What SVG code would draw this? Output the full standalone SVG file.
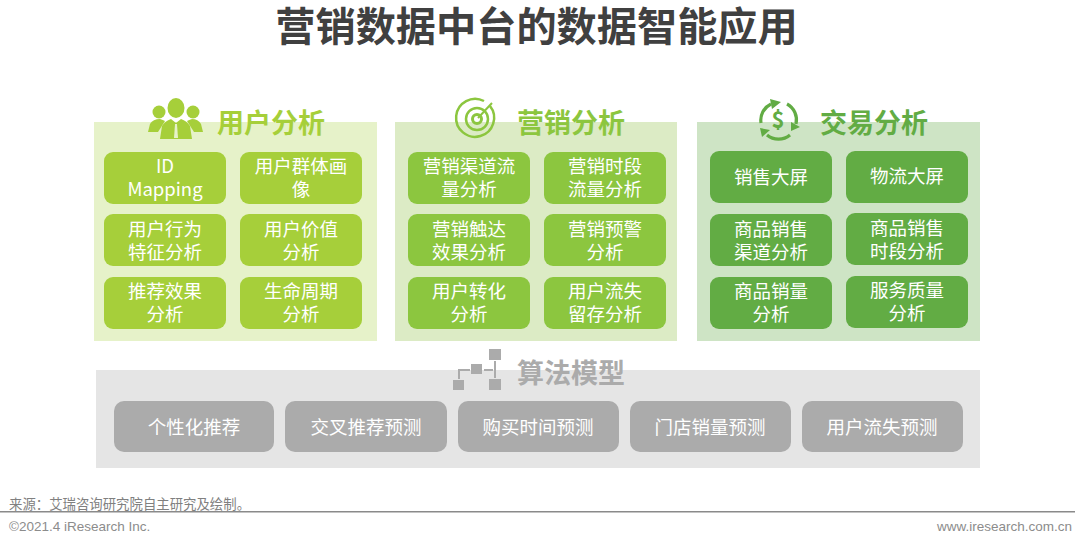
<svg xmlns="http://www.w3.org/2000/svg" width="1080" height="547" viewBox="0 0 1080 547">
<style>
text{font-family:"Noto Sans CJK SC","Noto Sans",sans-serif;text-anchor:middle}
.t{font-size:18.5px;fill:#fff}
.h{font-size:27px;font-weight:700}
.a{fill:#a6cf3a}.b{fill:#8cc63f}.c{fill:#62ac44}.g{fill:#ababab}
.src{text-anchor:start;font-size:13.4px;fill:#808080}
.lat{font-family:"Liberation Sans",sans-serif;font-size:13.5px;fill:#8c8c8c}
</style>
<rect width="1080" height="547" fill="#fff"/>
<text id="title" x="536.5" y="41" font-size="40.2" font-weight="700" fill="#404040">营销数据中台的数据智能应用</text>

<rect id="panel-user" x="94" y="122" width="283" height="219" fill="#e6f2c9"/>
<rect id="panel-mkt" x="395" y="122" width="282" height="219" fill="#dcebc5"/>
<rect id="panel-trade" x="697" y="122" width="283" height="219" fill="#cee4c5"/>
<rect id="panel-algo" x="96" y="370" width="884" height="98" fill="#e5e5e5"/>

<g id="icon-user" fill="#a6cf3a">
<ellipse cx="176" cy="108" rx="8.5" ry="10"/><circle cx="159" cy="112" r="6.5"/><circle cx="193" cy="112" r="6.5"/>
<path d="M160 139 L162 126 Q165 121 171 119 L176 123 L181 119 Q187 121 190 126 L192 139Z"/>
<path d="M148 132 L150 124 Q153 119 160 119 Q163 120 165 121 L158 132Z"/>
<path d="M203 132 L201 124 Q198 119 192 119 Q189 120 187 121 L194 132Z"/>
<path d="M175 124 L177 124 L178 138 L174 138Z" fill="#e6f2c9"/>
</g>
<text id="head-user" class="h" x="271" y="132.500" fill="#a6cf3a">用户分析</text>

<g id="icon-mkt" fill="none" stroke="#8cc63f">
<path d="M490 106 A19 19 0 1 1 484 101" stroke-width="2.5"/>
<circle cx="477" cy="119" r="11" stroke-width="2.5"/>
<circle cx="477" cy="119" r="4.5" stroke-width="3"/>
<path d="M478 118 L492 103" stroke-width="2"/>
</g>
<text id="head-mkt" class="h" x="571" y="132.500" fill="#8cc63f">营销分析</text>

<g id="icon-trade">
<g fill="none" stroke="#62ac44" stroke-width="3.2">
<path d="M761 123 A18 18 0 0 1 771 104"/>
<path d="M787 104 A18 18 0 0 1 796 124"/>
<path d="M790 135 A18 18 0 0 1 767 135"/>
</g>
<path d="M770 99 L781 102 L772 109Z M791 122 L800 127 L791 131Z M760 128 L770 130 L762 137Z" fill="#62ac44"/>
<text x="778" y="128" font-size="22" font-weight="700" fill="#62ac44">$</text>
</g>
<text id="head-trade" class="h" x="874" y="132.500" fill="#62ac44">交易分析</text>

<g id="icon-algo" fill="#ababab">
<rect x="489" y="349" width="12" height="11"/>
<rect x="471" y="364" width="11" height="10"/>
<rect x="453" y="380" width="11" height="10"/>
<rect x="489" y="379" width="12" height="11"/>
<path d="M458 379 V369 H470 V371 H460 V379Z M484 369 H493 V371 H484Z M494 361 H496 V378 H494Z"/>
</g>
<text id="head-algo" class="h" x="571" y="383" fill="#ababab">算法模型</text>

<g id="n1"><rect class="a" x="104" y="152" width="122" height="52" rx="9"/><text class="t" x="165" y="173">ID</text><text class="t" x="165" y="196">Mapping</text></g>
<g id="n2"><rect class="a" x="240" y="152" width="122" height="52" rx="9"/><text class="t" x="301" y="173">用户群体画</text><text class="t" x="301" y="196">像</text></g>
<g id="n3"><rect class="a" x="104" y="214" width="122" height="52" rx="9"/><text class="t" x="165" y="235.500">用户行为</text><text class="t" x="165" y="258.500">特征分析</text></g>
<g id="n4"><rect class="a" x="240" y="214" width="122" height="52" rx="9"/><text class="t" x="301" y="235.500">用户价值</text><text class="t" x="301" y="258.500">分析</text></g>
<g id="n5"><rect class="a" x="104" y="277" width="122" height="52" rx="9"/><text class="t" x="165" y="298">推荐效果</text><text class="t" x="165" y="321">分析</text></g>
<g id="n6"><rect class="a" x="240" y="277" width="122" height="52" rx="9"/><text class="t" x="301" y="298">生命周期</text><text class="t" x="301" y="321">分析</text></g>

<g id="n7"><rect class="b" x="408" y="152" width="122" height="52" rx="9"/><text class="t" x="469" y="173">营销渠道流</text><text class="t" x="469" y="196">量分析</text></g>
<g id="n8"><rect class="b" x="544" y="152" width="122" height="52" rx="9"/><text class="t" x="605" y="173">营销时段</text><text class="t" x="605" y="196">流量分析</text></g>
<g id="n9"><rect class="b" x="408" y="214" width="122" height="52" rx="9"/><text class="t" x="469" y="235.500">营销触达</text><text class="t" x="469" y="258.500">效果分析</text></g>
<g id="n10"><rect class="b" x="544" y="214" width="122" height="52" rx="9"/><text class="t" x="605" y="235.500">营销预警</text><text class="t" x="605" y="258.500">分析</text></g>
<g id="n11"><rect class="b" x="408" y="277" width="122" height="52" rx="9"/><text class="t" x="469" y="298">用户转化</text><text class="t" x="469" y="321">分析</text></g>
<g id="n12"><rect class="b" x="544" y="277" width="122" height="52" rx="9"/><text class="t" x="605" y="298">用户流失</text><text class="t" x="605" y="321">留存分析</text></g>

<g id="n13"><rect class="c" x="710" y="151" width="122" height="52" rx="9"/><text class="t" x="771" y="184">销售大屏</text></g>
<g id="n14"><rect class="c" x="846" y="151" width="122" height="52" rx="9"/><text class="t" x="907" y="183">物流大屏</text></g>
<g id="n15"><rect class="c" x="710" y="214" width="122" height="52" rx="9"/><text class="t" x="771" y="235.500">商品销售</text><text class="t" x="771" y="258.500">渠道分析</text></g>
<g id="n16"><rect class="c" x="846" y="213" width="122" height="52" rx="9"/><text class="t" x="907" y="234.500">商品销售</text><text class="t" x="907" y="257.500">时段分析</text></g>
<g id="n17"><rect class="c" x="710" y="277" width="122" height="52" rx="9"/><text class="t" x="771" y="298">商品销量</text><text class="t" x="771" y="321">分析</text></g>
<g id="n18"><rect class="c" x="846" y="276" width="122" height="52" rx="9"/><text class="t" x="907" y="297">服务质量</text><text class="t" x="907" y="320">分析</text></g>

<g id="a1"><rect class="g" x="114" y="401" width="160" height="51" rx="10"/><text class="t" x="194" y="434">个性化推荐</text></g>
<g id="a2"><rect class="g" x="285" y="401" width="162" height="51" rx="10"/><text class="t" x="366" y="434">交叉推荐预测</text></g>
<g id="a3"><rect class="g" x="458" y="401" width="161" height="51" rx="10"/><text class="t" x="538" y="434">购买时间预测</text></g>
<g id="a4"><rect class="g" x="630" y="401" width="161" height="51" rx="10"/><text class="t" x="710" y="434">门店销量预测</text></g>
<g id="a5"><rect class="g" x="802" y="401" width="161" height="51" rx="10"/><text class="t" x="882" y="434">用户流失预测</text></g>

<g id="connectors"></g>

<text class="src" x="9" y="508.500">来源：艾瑞咨询研究院自主研究及绘制。</text>
<rect x="0" y="511" width="1075" height="1.5" fill="#8a8a8a"/>
<text class="lat" x="9" y="531" style="text-anchor:start">©2021.4 iResearch Inc.</text>
<text class="lat" x="1072" y="531" style="text-anchor:end">www.iresearch.com.cn</text>
</svg>
